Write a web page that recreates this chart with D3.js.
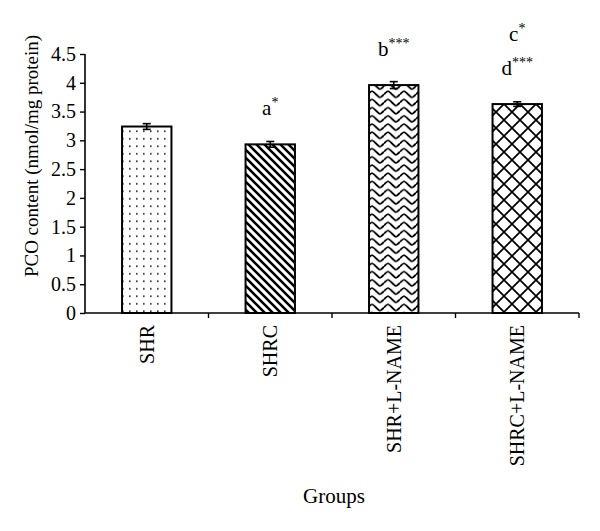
<!DOCTYPE html>
<html><head><meta charset="utf-8">
<script src="https://cdn.jsdelivr.net/npm/d3@7"></script>
<style>body{margin:0;background:#fff}svg{display:block}text,tspan{font-family:"Liberation Serif","DejaVu Serif",serif;fill:#000}</style>
</head><body>
<svg id="c" width="600" height="531"></svg>
<script>
const categories = ["SHR", "SHRC", "SHR+L-NAME", "SHRC+L-NAME"];
const values = [3.24, 2.93, 3.96, 3.63];
const errors = [0.05, 0.05, 0.06, 0.04];
const yTicks = [0, 0.5, 1, 1.5, 2, 2.5, 3, 3.5, 4, 4.5];
const annotLetters = [[], ["a"], ["b"], ["d", "c"]];
const annotStars = [[], ["*"], ["***"], ["***", "*"]];
const patterns = ["dots", "diag", "wave", "cross"];

const svg = d3.select("#c");
const x = d3.scaleBand().domain(categories).range([85, 579]).paddingInner(0.6).paddingOuter(0.3);
const y = d3.scaleLinear().domain([0, 4.5]).range([313, 54]);

const defs = svg.append("defs");
const pd = defs.append("pattern").attr("id","dots").attr("patternUnits","userSpaceOnUse").attr("width",7).attr("height",7.5);
pd.append("rect").attr("width",7).attr("height",7.5).attr("fill","#fff");
pd.append("rect").attr("x",3).attr("y",3).attr("width",1.6).attr("height",1.6).attr("fill","#222");
const pg = defs.append("pattern").attr("id","diag").attr("patternUnits","userSpaceOnUse").attr("width",8).attr("height",8);
pg.append("rect").attr("width",8).attr("height",8).attr("fill","#fff");
pg.append("path").attr("d","M-2,-2L10,10M-2,6L2,10M6,-2L10,2").attr("stroke","#000").attr("stroke-width",2.6);
const pw = defs.append("pattern").attr("id","wave").attr("patternUnits","userSpaceOnUse").attr("width",16).attr("height",8.2);
pw.append("rect").attr("width",16).attr("height",8.2).attr("fill","#fff");
pw.append("path").attr("d","M0,4.1 C4,0 4,0 8,4.1 S12,8.2 16,4.1").attr("fill","none").attr("stroke","#000").attr("stroke-width",1.8);
const pc = defs.append("pattern").attr("id","cross").attr("patternUnits","userSpaceOnUse").attr("width",16).attr("height",16);
pc.append("rect").attr("width",16).attr("height",16).attr("fill","#fff");
pc.append("path").attr("d","M0,0L16,16M16,0L0,16").attr("stroke","#000").attr("stroke-width",1.8);

svg.selectAll("rect.bar").data(categories).enter().append("rect").attr("class","bar")
  .attr("x", d => x(d)).attr("width", x.bandwidth())
  .attr("y", (d,i) => y(values[i])).attr("height", (d,i) => y(0) - y(values[i]))
  .attr("fill", (d,i) => `url(#${patterns[i]})`).attr("stroke","#000").attr("stroke-width",2);

const eb = svg.append("g").attr("stroke","#000").attr("stroke-width",1.6);
categories.forEach((c,i) => {
  const cx = x(c) + x.bandwidth()/2;
  eb.append("line").attr("x1",cx).attr("x2",cx).attr("y1",y(values[i]+errors[i])).attr("y2",y(values[i]-errors[i]));
  [values[i]+errors[i], values[i]-errors[i]].forEach(v => eb.append("line").attr("x1",cx-4).attr("x2",cx+4).attr("y1",y(v)).attr("y2",y(v)));
});

const ya = svg.append("g").attr("transform","translate(85,0)")
  .call(d3.axisLeft(y).tickValues(yTicks).tickSize(5).tickFormat(d3.format("")));
ya.select(".domain").attr("stroke-width",1.6).attr("d", `M0,${y(4.5)}V${y(0)}`);
ya.selectAll(".tick line").attr("stroke-width",1.4);
ya.selectAll(".tick text").attr("font-size",20).attr("x",-9).attr("font-family","Liberation Serif, serif").attr("fill","#000");

const xa = svg.append("g").attr("transform",`translate(0,${y(0)})`);
xa.append("line").attr("x1",85).attr("x2",579).attr("stroke","#000").attr("stroke-width",1.6);
const step = x.step();
const tickX = categories.map(c => x(c) + x.bandwidth()/2 + step/2);
xa.selectAll("line.t").data(tickX).enter().append("line").attr("class","t")
  .attr("x1",d=>d).attr("x2",d=>d).attr("y1",0).attr("y2",5).attr("stroke","#000").attr("stroke-width",1.4);
xa.selectAll("text.cat").data(categories).enter().append("text").attr("class","cat")
  .attr("transform", d => `translate(${x(d)+x.bandwidth()/2+7},12) rotate(-90)`)
  .attr("text-anchor","end").attr("font-size",20).text(d => d);

categories.forEach((c,i) => {
  const cx = x(c) + x.bandwidth()/2;
  annotLetters[i].forEach((L,k) => {
    const t = svg.append("text").attr("x",cx).attr("y", y(values[i]) - 29 - k*34)
      .attr("text-anchor","middle").attr("font-size",21).attr("fill","#000");
    t.append("tspan").attr("fill","#000").text(L);
    t.append("tspan").attr("dy",-8).attr("font-size",14).attr("fill","#000").text(annotStars[i][k]);
  });
});

svg.append("text").attr("transform","translate(38,156) rotate(-90)").attr("text-anchor","middle")
  .attr("font-size",19).text("PCO content (nmol/mg protein)");
svg.append("text").attr("x",334).attr("y",503).attr("text-anchor","middle").attr("font-size",21).text("Groups");
</script>
</body></html>
